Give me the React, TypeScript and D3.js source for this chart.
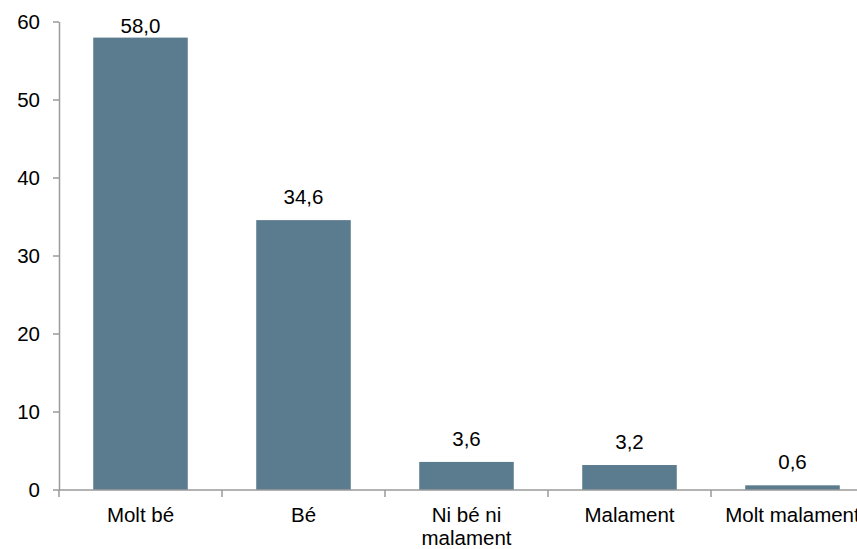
import { useEffect, useRef } from 'react';
import * as d3 from 'd3';

const categories = ['Molt bé', 'Bé', 'Ni bé ni malament', 'Malament', 'Molt malament'];
const categoryLines = [['Molt bé'], ['Bé'], ['Ni bé ni', 'malament'], ['Malament'], ['Molt malament']];
const values = [58.0, 34.6, 3.6, 3.2, 0.6];
const yTicks = [0, 10, 20, 30, 40, 50, 60];

export default function App() {
  const svgRef = useRef<SVGSVGElement>(null);

  useEffect(() => {
    if (!svgRef.current) return;
    const svg = d3.select(svgRef.current);
    svg.selectAll('*').remove();

    const width = 857;
    const height = 549;
    const left = 59;
    const top = 22;
    const bottom = 490;
    const band = 163;

    const x = d3
      .scaleBand<string>()
      .domain(categories)
      .range([left, left + band * categories.length])
      .paddingInner(0.42)
      .paddingOuter(0.21);
    const y = d3.scaleLinear().domain([0, 60]).range([bottom, top]);

    const font = '"Liberation Sans", Arial, sans-serif';
    const fontSize = 20.5;
    const axisColor = '#9a9a9a';

    // bars
    svg
      .append('g')
      .selectAll('rect')
      .data(values)
      .join('rect')
      .attr('x', (_, i) => x(categories[i])!)
      .attr('y', (d) => y(d))
      .attr('width', x.bandwidth())
      .attr('height', (d) => bottom - y(d))
      .attr('fill', '#5b7b8e');

    // value labels
    svg
      .append('g')
      .selectAll('text')
      .data(values)
      .join('text')
      .attr('x', (_, i) => x(categories[i])! + x.bandwidth() / 2)
      .attr('y', (d) => Math.max(y(d) - 16, 33))
      .attr('text-anchor', 'middle')
      .attr('font-family', font)
      .attr('font-size', fontSize)
      .attr('fill', '#000')
      .text((d) => d.toFixed(1).replace('.', ','));

    // y axis
    const ya = svg.append('g');
    ya.append('line')
      .attr('x1', left + 0.5).attr('x2', left + 0.5)
      .attr('y1', top).attr('y2', bottom)
      .attr('stroke', axisColor).attr('stroke-width', 1.5);
    ya.selectAll('line.tick')
      .data(yTicks)
      .join('line')
      .attr('class', 'tick')
      .attr('x1', left - 6).attr('x2', left)
      .attr('y1', (d) => y(d)).attr('y2', (d) => y(d))
      .attr('stroke', axisColor).attr('stroke-width', 1.5);
    ya.selectAll('text')
      .data(yTicks)
      .join('text')
      .attr('x', 40)
      .attr('y', (d) => y(d))
      .attr('dy', '0.36em')
      .attr('text-anchor', 'end')
      .attr('font-family', font)
      .attr('font-size', fontSize)
      .attr('fill', '#000')
      .text((d) => d);

    // x axis
    const xa = svg.append('g');
    xa.append('line')
      .attr('x1', left).attr('x2', width)
      .attr('y1', bottom).attr('y2', bottom)
      .attr('stroke', axisColor).attr('stroke-width', 1.5);
    xa.selectAll('line.tick')
      .data(d3.range(categories.length + 1))
      .join('line')
      .attr('class', 'tick')
      .attr('x1', (i) => left + i * band).attr('x2', (i) => left + i * band)
      .attr('y1', bottom).attr('y2', bottom + 7)
      .attr('stroke', axisColor).attr('stroke-width', 1.5);
    const labels = xa
      .selectAll('text')
      .data(categories)
      .join('text')
      .attr('x', (d) => x(d)! + x.bandwidth() / 2)
      .attr('y', 522)
      .attr('text-anchor', 'middle')
      .attr('font-family', font)
      .attr('font-size', fontSize)
      .attr('fill', '#000');
    labels
      .selectAll('tspan')
      .data((_, i) => categoryLines[i])
      .join('tspan')
      .attr('x', function () {
        return (this.parentNode as SVGTextElement).getAttribute('x');
      })
      .attr('dy', (_, j) => (j === 0 ? 0 : 23))
      .text((d) => d);

    svg.attr('width', width).attr('height', height);
  }, []);

  return (
    <svg
      ref={svgRef}
      style={{ position: 'absolute', left: 0, top: 0, overflow: 'hidden', background: '#fff' }}
    />
  );
}
